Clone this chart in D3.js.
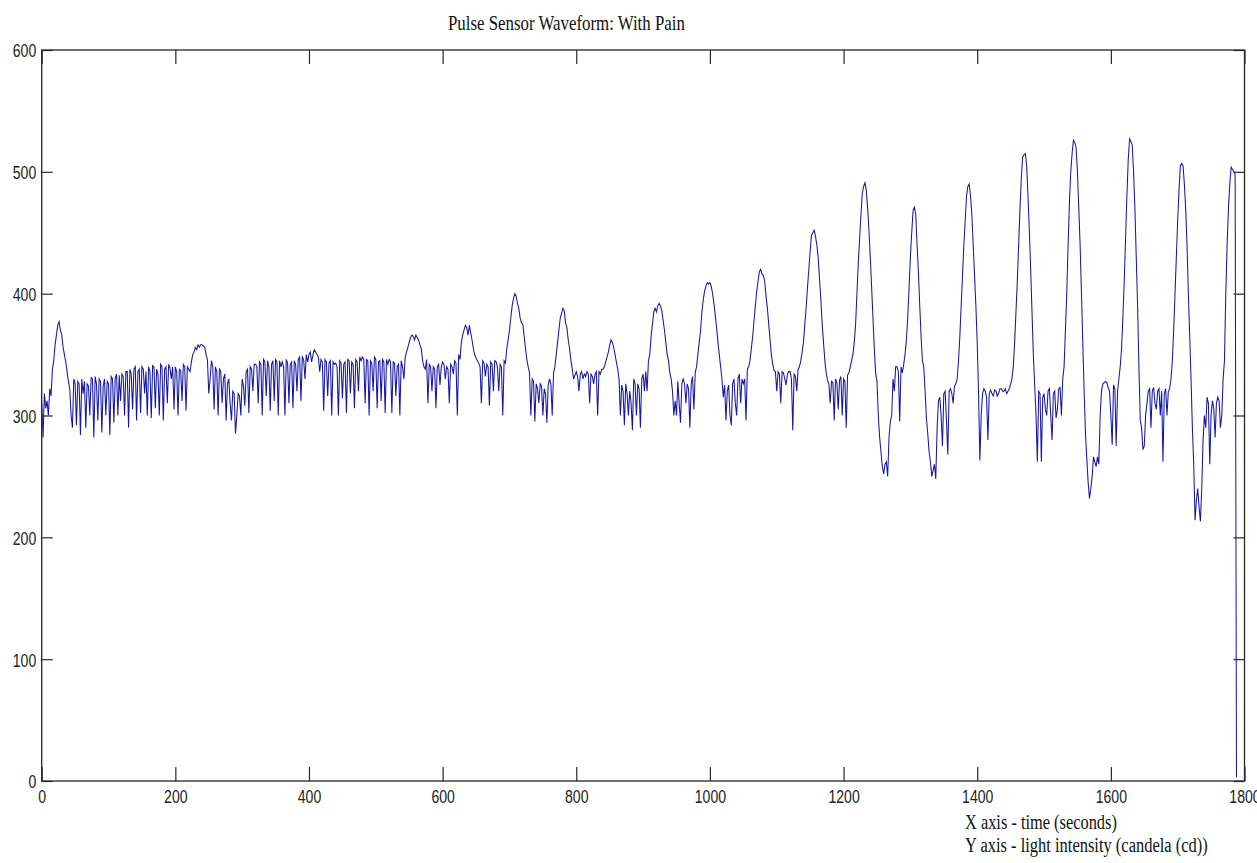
<!DOCTYPE html>
<html>
<head>
<meta charset="utf-8">
<script src="https://cdn.jsdelivr.net/npm/d3@7"></script>
<style>
  html, body { margin: 0; padding: 0; background: #fff; }
  svg { display: block; }
</style>
</head>
<body>
<svg id="chart" width="1257" height="863"></svg>
<script>
// Pulse sensor recording: one sample every 2 s from t = 0
const sampleStep = 2;
const pulseValues = [
  310, 282, 318, 306, 312, 300, 322, 316, 338, 345, 358, 366, 374, 377, 370, 366, 356, 350, 344, 336,
  328, 322, 300, 290, 330, 326, 292, 328, 326, 284, 330, 318, 328, 290, 326, 324, 300, 331, 330, 282,
  332, 326, 296, 330, 328, 286, 324, 330, 300, 328, 326, 284, 332, 330, 294, 331, 334, 300, 333, 312,
  334, 332, 300, 336, 336, 290, 338, 334, 305, 338, 340, 296, 336, 338, 302, 340, 338, 318, 336, 300,
  340, 336, 298, 341, 340, 306, 338, 334, 300, 342, 340, 296, 338, 340, 310, 342, 339, 330, 340, 305,
  340, 336, 300, 338, 337, 312, 342, 340, 304, 340, 338, 336, 344, 350, 352, 356, 354, 358, 356, 358,
  358, 357, 356, 350, 346, 318, 330, 345, 340, 305, 340, 336, 300, 338, 336, 310, 330, 334, 296, 326,
  330, 310, 296, 320, 318, 285, 300, 318, 316, 300, 330, 324, 308, 336, 338, 302, 340, 338, 320, 342,
  342, 340, 310, 344, 342, 300, 346, 344, 316, 345, 340, 304, 342, 345, 312, 346, 344, 300, 345, 340,
  344, 340, 300, 346, 343, 310, 342, 344, 306, 345, 342, 320, 346, 348, 312, 348, 346, 330, 350, 344,
  350, 352, 344, 350, 354, 352, 350, 348, 336, 346, 344, 304, 346, 344, 316, 343, 345, 300, 344, 342,
  343, 340, 300, 345, 343, 314, 342, 344, 302, 346, 345, 318, 344, 342, 306, 346, 344, 320, 348, 345,
  348, 346, 310, 346, 345, 300, 345, 343, 320, 348, 346, 306, 344, 345, 312, 346, 344, 302, 346, 342,
  346, 344, 302, 344, 343, 316, 340, 342, 300, 345, 340, 330, 348, 352, 356, 360, 364, 366, 365, 362,
  366, 364, 362, 358, 355, 345, 340, 338, 346, 310, 342, 340, 320, 340, 338, 306, 340, 342, 325, 340,
  344, 342, 330, 340, 338, 310, 342, 340, 334, 345, 343, 300, 350, 346, 360, 366, 370, 374, 372, 366,
  374, 368, 362, 355, 350, 347, 345, 343, 340, 310, 345, 343, 332, 342, 340, 308, 344, 342, 320, 345,
  344, 340, 320, 342, 340, 300, 345, 343, 355, 362, 370, 380, 390, 396, 400, 398, 392, 388, 380, 376,
  375, 365, 355, 346, 340, 335, 300, 330, 328, 295, 326, 322, 310, 326, 324, 300, 322, 318, 294, 325,
  330, 326, 300, 335, 340, 350, 360, 370, 380, 384, 388, 386, 376, 372, 362, 355, 345, 338, 330, 333,
  336, 332, 320, 334, 336, 330, 334, 332, 336, 334, 310, 334, 332, 326, 334, 336, 300, 336, 334, 338,
  338, 340, 344, 348, 352, 358, 362, 360, 356, 350, 344, 338, 330, 300, 325, 320, 292, 326, 318, 300,
  320, 310, 288, 330, 326, 300, 326, 322, 290, 330, 334, 320, 336, 320, 345, 350, 365, 375, 385, 388,
  385, 390, 392, 390, 386, 378, 370, 360, 350, 345, 335, 330, 320, 300, 312, 300, 328, 310, 294, 326,
  330, 326, 310, 326, 322, 290, 326, 332, 305, 335, 340, 350, 360, 370, 385, 395, 402, 406, 409, 408,
  409, 406, 400, 392, 382, 372, 360, 350, 340, 330, 315, 325, 296, 320, 325, 300, 292, 326, 330, 310,
  300, 330, 334, 310, 330, 326, 330, 296, 338, 340, 345, 355, 365, 378, 390, 402, 410, 418, 420, 416,
  415, 410, 398, 388, 375, 362, 350, 342, 337, 336, 320, 336, 334, 310, 336, 335, 330, 325, 334, 336,
  336, 330, 288, 334, 332, 320, 338, 340, 345, 352, 360, 375, 388, 405, 420, 435, 448, 450, 452, 447,
  440, 430, 412, 395, 375, 360, 345, 335, 329, 326, 310, 328, 327, 296, 330, 327, 305, 329, 332, 300,
  330, 328, 290, 333, 335, 340, 345, 350, 360, 375, 400, 425, 445, 465, 482, 488, 491, 485, 470, 452,
  430, 405, 380, 355, 335, 328, 300, 282, 270, 258, 252, 260, 262, 250, 282, 295, 300, 330, 320, 340,
  340, 336, 295, 340, 335, 342, 350, 362, 380, 405, 430, 450, 468, 471, 465, 440, 418, 390, 365, 345,
  340, 320, 298, 285, 270, 262, 250, 255, 260, 248, 290, 312, 315, 300, 275, 318, 320, 296, 268, 320,
  322, 318, 310, 324, 326, 330, 345, 365, 390, 415, 440, 460, 480, 488, 490, 480, 465, 440, 415, 390,
  360, 318, 263, 300, 318, 322, 320, 315, 280, 318, 321, 318, 316, 321, 320, 316, 318, 322, 322, 320,
  320, 322, 318, 320, 322, 326, 330, 340, 360, 385, 410, 440, 470, 495, 512, 514, 515, 505, 480, 452,
  420, 385, 350, 325, 300, 262, 320, 318, 262, 315, 318, 305, 300, 320, 322, 300, 280, 318, 320, 298,
  305, 322, 323, 300, 330, 340, 370, 400, 440, 475, 500, 515, 526, 524, 520, 500, 470, 440, 400, 360,
  320, 285, 265, 245, 232, 240, 250, 266, 262, 258, 266, 260, 300, 320, 326, 327, 328, 327, 323, 320,
  300, 276, 325, 322, 275, 320, 330, 340, 355, 380, 410, 445, 480, 510, 527, 525, 522, 500, 470, 430,
  390, 340, 296, 290, 272, 275, 300, 310, 320, 322, 290, 320, 323, 310, 305, 320, 322, 300, 320, 262,
  318, 322, 300, 320, 322, 330, 345, 370, 400, 430, 460, 485, 505, 507, 505, 490, 470, 440, 400, 365,
  330, 290, 260, 214, 230, 240, 225, 213, 240, 280, 300, 290, 315, 310, 260, 300, 312, 306, 282, 310,
  315, 312, 290, 300, 330, 345, 400, 440, 470, 490, 504, 502, 500, 498, 3
];

const xTicks = [0, 200, 400, 600, 800, 1000, 1200, 1400, 1600, 1800];
const yTicks = [0, 100, 200, 300, 400, 500, 600];

const titleText = "Pulse Sensor Waveform: With Pain";
const noteLines = ["X axis - time (seconds)", "Y axis - light intensity (candela (cd))"];

const svg = d3.select("#chart");

const x = d3.scaleLinear().domain([0, 1800]).range([41.7, 1244.5]);
const y = d3.scaleLinear().domain([0, 600]).range([781, 50]);

const axisColor = "#262626";
const labelFont = "'Liberation Sans', Arial, sans-serif";
const serifFont = "'Liberation Serif', 'Times New Roman', serif";
const narrow = 0.74;

// Signal trace
const series = pulseValues.map((v, i) => ({ t: i * sampleStep, v }));
const line = d3.line().x(d => x(d.t)).y(d => y(d.v));
svg.append("path")
  .datum(series)
  .attr("fill", "none")
  .attr("stroke", "#1616a4")
  .attr("stroke-width", 1.05)
  .attr("stroke-linejoin", "miter")
  .attr("d", line);

// Axes: labelled bottom/left, bare ticks on top/right, all ticks pointing inward
function styleAxis(g) {
  g.select(".domain").remove();
  g.selectAll(".tick line").attr("stroke", axisColor).attr("stroke-width", 1.2);
}

const axisB = svg.append("g")
  .attr("transform", `translate(0,${y(0)})`)
  .call(d3.axisBottom(x).tickValues(xTicks).tickFormat(d3.format("d"))
    .tickSizeInner(-14).tickSizeOuter(0).tickPadding(0));
styleAxis(axisB);
axisB.selectAll(".tick text")
  .attr("y", 0).attr("dy", null)
  .attr("transform", `translate(0,22) scale(${narrow},1)`)
  .attr("font-family", labelFont).attr("font-size", 19).attr("fill", "#222");

const axisL = svg.append("g")
  .attr("transform", `translate(${x(0)},0)`)
  .call(d3.axisLeft(y).tickValues(yTicks).tickFormat(d3.format("d"))
    .tickSizeInner(-11).tickSizeOuter(0).tickPadding(0));
styleAxis(axisL);
axisL.selectAll(".tick text")
  .attr("x", 0).attr("dy", "0.36em")
  .attr("text-anchor", "end")
  .attr("transform", `translate(-5.5,0) scale(${narrow},1)`)
  .attr("font-family", labelFont).attr("font-size", 19).attr("fill", "#222");

const axisT = svg.append("g")
  .attr("transform", `translate(0,${y(600)})`)
  .call(d3.axisTop(x).tickValues(xTicks).tickFormat("").tickSizeInner(-14).tickSizeOuter(0));
styleAxis(axisT);

const axisR = svg.append("g")
  .attr("transform", `translate(${x(1800)},0)`)
  .call(d3.axisRight(y).tickValues(yTicks).tickFormat("").tickSizeInner(-11).tickSizeOuter(0));
styleAxis(axisR);

// Plot frame
svg.append("rect")
  .attr("x", x(0)).attr("y", y(600))
  .attr("width", x(1800) - x(0)).attr("height", y(0) - y(600))
  .attr("fill", "none").attr("stroke", axisColor).attr("stroke-width", 1.3);

// Serif captions squeezed horizontally to a given width
function fittedText(str, left, baseline, width) {
  const t = svg.append("text")
    .attr("x", 0).attr("y", 0)
    .attr("font-family", serifFont).attr("font-size", 20)
    .attr("fill", "#111")
    .text(str);
  const natural = t.node().getComputedTextLength();
  t.attr("transform", `translate(${left},${baseline}) scale(${width / natural},1)`);
  return t;
}

fittedText(titleText, 448, 30, 237);

const noteWidths = [152, 243];
noteLines.forEach((s, i) => fittedText(s, 965, 829 + i * 23, noteWidths[i]));
</script>
</body>
</html>
